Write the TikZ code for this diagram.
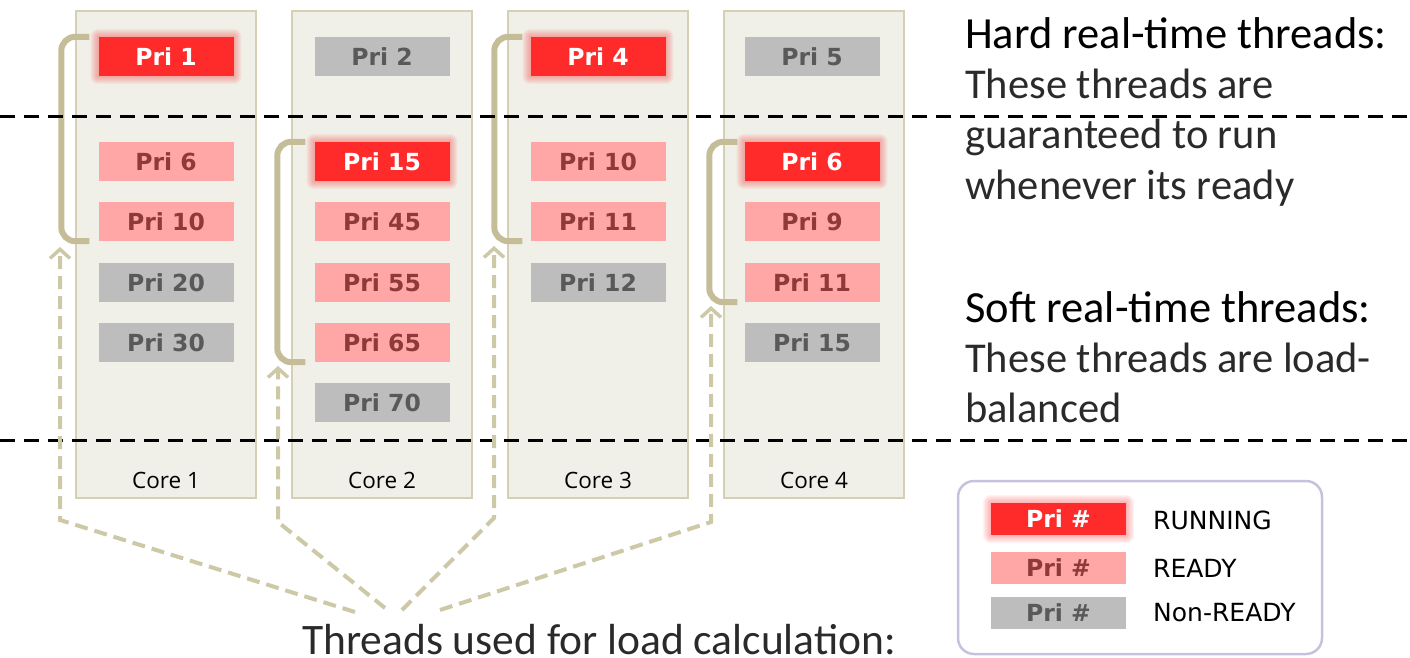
\documentclass[tikz,border=0pt]{standalone}
\usepackage{fontspec}
\usetikzlibrary{arrows.meta}
\newfontfamily\prifont{DejaVu Sans}
\newfontfamily\corefont{Open Sans}
\newfontfamily\headfont{Carlito}
\newfontfamily\bodyfont{Carlito}

\definecolor{runred}{HTML}{FF2A2A}
\definecolor{readypink}{HTML}{FFA7A7}
\definecolor{readytext}{HTML}{8E3A3A}
\definecolor{waitgray}{HTML}{BDBDBD}
\definecolor{waittext}{HTML}{595959}
\definecolor{colfill}{HTML}{F1F0E8}
\definecolor{colborder}{HTML}{D5D0B3}
\definecolor{khaki}{HTML}{C4BD98}
\definecolor{khakilight}{HTML}{CDC8A6}
\definecolor{legendline}{HTML}{C9C1DC}
\definecolor{lighttext}{HTML}{2A2A2A}

\pgfdeclarelayer{colbg}
\pgfdeclarelayer{glowlayer}
\pgfsetlayers{colbg,glowlayer,main}

\tikzset{
  pribox/.style={minimum width=135pt, minimum height=39pt, inner sep=0pt,
    font=\prifont\bfseries\fontsize{23.5}{24}\selectfont},
  running/.style={pribox, fill=runred, text=white},
  ready/.style={pribox, fill=readypink, text=readytext},
  waiting/.style={pribox, fill=waitgray, text=waittext},
  column/.style={draw=colborder, fill=colfill, line width=1.2pt,
    minimum width=180pt, minimum height=487pt, inner sep=0pt},
  corelabel/.style={font=\corefont\fontsize{22.5}{26}\selectfont, inner sep=0pt},
  bracket/.style={draw=khaki, line width=6pt, rounded corners=14pt},
  loadarrow/.style={draw=khakilight, line width=4pt, dash pattern=on 13pt off 7pt,
    -{Straight Barb[length=9pt, width=20pt, line width=3.5pt]}},
  sepline/.style={draw=black, line width=3pt, dash pattern=on 15pt off 9pt},
  headtext/.style={font=\headfont\fontsize{44.5}{48}\selectfont, anchor=base west, inner sep=0pt},
  bodytext/.style={font=\bodyfont\fontsize{42.5}{44}\selectfont, text=lighttext, anchor=base west, inner sep=0pt},
  legendlabel/.style={font=\prifont\fontsize{25}{28}\selectfont, anchor=west, inner sep=0pt},
}

\begin{document}
\begin{tikzpicture}[x=1pt,y=-1pt]
\useasboundingbox (0,0) rectangle (1410,657);

% core columns
\begin{pgfonlayer}{colbg}
  \node[column] (col1) at (166,254.5) {};
  \node[column] (col2) at (382,254.5) {};
  \node[column] (col3) at (598,254.5) {};
  \node[column] (col4) at (814,254.5) {};
\end{pgfonlayer}

\node[corelabel] (lab1) at (166,480) {Core 1};
\node[corelabel] (lab2) at (382,480) {Core 2};
\node[corelabel] (lab3) at (598,480) {Core 3};
\node[corelabel] (lab4) at (814,480) {Core 4};

% thread queues
\node[running] (c1p1) at (166,56.5)  {Pri 1};
\node[ready]   (c1p2) at (166,161.5) {Pri 6};
\node[ready]   (c1p3) at (166,221.5) {Pri 10};
\node[waiting] (c1p4) at (166,282.5) {Pri 20};
\node[waiting] (c1p5) at (166,342.5) {Pri 30};

\node[waiting] (c2p1) at (382,56.5)  {Pri 2};
\node[running] (c2p2) at (382,161.5) {Pri 15};
\node[ready]   (c2p3) at (382,221.5) {Pri 45};
\node[ready]   (c2p4) at (382,282.5) {Pri 55};
\node[ready]   (c2p5) at (382,342.5) {Pri 65};
\node[waiting] (c2p6) at (382,402.5) {Pri 70};

\node[running] (c3p1) at (598,56.5)  {Pri 4};
\node[ready]   (c3p2) at (598,161.5) {Pri 10};
\node[ready]   (c3p3) at (598,221.5) {Pri 11};
\node[waiting] (c3p4) at (598,282.5) {Pri 12};

\node[waiting] (c4p1) at (812,56.5)  {Pri 5};
\node[running] (c4p2) at (812,161.5) {Pri 6};
\node[ready]   (c4p3) at (812,221.5) {Pri 9};
\node[ready]   (c4p4) at (812,282.5) {Pri 11};
\node[waiting] (c4p5) at (812,342.5) {Pri 15};

% legend
\draw[legendline, line width=2.5pt, rounded corners=16pt] (958,481) rectangle (1322,654);
\node[running, minimum height=32pt] (legrun)  at (1058.5,519) {Pri \#};
\node[ready,   minimum height=32pt] (legready) at (1058.5,568) {Pri \#};
\node[waiting, minimum height=32pt] (legwait)  at (1058.5,612.5) {Pri \#};
\node[legendlabel] (txtrun)   at (1153,520) {RUNNING};
\node[legendlabel] (txtready) at (1153,568) {READY};
\node[legendlabel] (txtwait)  at (1153,613) {Non-READY};

% glow around running threads
\begin{pgfonlayer}{glowlayer}
  \foreach \n in {c1p1,c2p2,c3p1,c4p2,legrun} {
    \foreach \r in {1,...,8} {
      \fill[runred, opacity=0.05, rounded corners=\r pt]
        ([xshift=-\r pt,yshift=-\r pt]\n.south west) rectangle
        ([xshift=\r pt,yshift=\r pt]\n.north east);
    }
  }
\end{pgfonlayer}

% brackets grouping the threads used for load
\draw[bracket] ([xshift=-9pt]c1p1.north west) -- ++(-28,0) |- ([xshift=-9pt]c1p3.south west);
\draw[bracket] ([xshift=-9pt]c2p2.north west) -- ++(-28,0) |- ([xshift=-9pt]c2p5.south west);
\draw[bracket] ([xshift=-8pt]c3p1.north west) -- ++(-28,0) |- ([xshift=-8pt]c3p3.south west);
\draw[bracket] ([xshift=-7pt]c4p2.north west) -- ++(-28,0) |- ([xshift=-7pt]c4p4.south west);

% separators between hard and soft real-time bands
\coordinate (sepA1) at (0,116);   \coordinate (sepA2) at (1410,116);
\coordinate (sepB1) at (0,440);   \coordinate (sepB2) at (1410,440);
\draw[sepline] (sepA1) -- (sepA2);
\draw[sepline] (sepB1) -- (sepB2);

% explanatory text
\node[headtext] (hardhead) at (965,48)  {Hard real-time threads:};
\node[bodytext] (hard1)    at (965,98)  {These threads are};
\node[bodytext] (hard2)    at (965,148) {guaranteed to run};
\node[bodytext] (hard3)    at (965,199) {whenever its ready};
\node[headtext] (softhead) at (965,322) {Soft real-time threads:};
\node[bodytext] (soft1)    at (965,372) {These threads are load-};
\node[bodytext] (soft2)    at (965,422) {balanced};
\node[bodytext, font=\bodyfont\fontsize{43.5}{46}\selectfont] (loadtxt) at (302,654) {Threads used for load calculation:};

% load-calculation arrows
\coordinate (t1) at (60,247);  \coordinate (j1) at (60,520);  \coordinate (e1) at (355,612);
\coordinate (t2) at (278,366); \coordinate (j2) at (278,522); \coordinate (e2) at (385,608);
\coordinate (t3) at (494,246); \coordinate (j3) at (494,518); \coordinate (e3) at (402,610);
\coordinate (t4) at (711,306); \coordinate (j4) at (711,522); \coordinate (e4) at (440,610);
\draw[loadarrow] (e1) -- (j1) -- (t1);
\draw[loadarrow] (e2) -- (j2) -- (t2);
\draw[loadarrow] (e3) -- (j3) -- (t3);
\draw[loadarrow] (e4) -- (j4) -- (t4);
\end{tikzpicture}
\end{document}
